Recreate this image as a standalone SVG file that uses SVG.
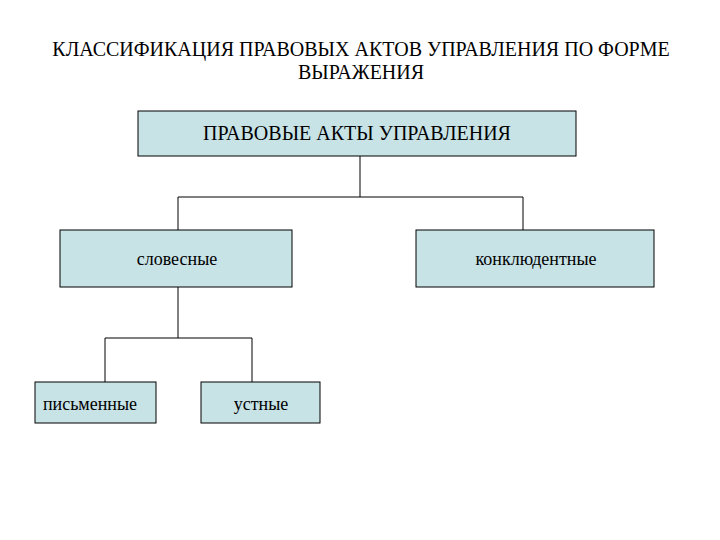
<svg xmlns="http://www.w3.org/2000/svg" width="720" height="540" viewBox="0 0 720 540">
<style>
.b{fill:#c7e3e6;stroke:#000;stroke-width:1}
.t{font-family:"Liberation Serif",serif;font-size:20px;text-anchor:middle;fill:#000}
.s{font-family:"Liberation Serif",serif;font-size:18px;text-anchor:middle;fill:#000}
.c{fill:none;stroke:#000;stroke-width:1}
</style>
<rect width="720" height="540" fill="#fff"/>
<text class="t" x="361" y="56">КЛАССИФИКАЦИЯ ПРАВОВЫХ АКТОВ УПРАВЛЕНИЯ ПО ФОРМЕ</text>
<text class="t" x="361" y="79">ВЫРАЖЕНИЯ</text>
<g id="connectors">
<path class="c" d="M360 156V197M178 197H523M178 197V230M523 197V230"/>
<path class="c" d="M178 287V338M105 338H252M105 338V382M252 338V382"/>
</g>
<g id="root"><rect class="b" x="138" y="111" width="438" height="45"/><text class="t" x="357" y="140">ПРАВОВЫЕ АКТЫ УПРАВЛЕНИЯ</text></g>
<g id="slovesnye"><rect class="b" x="60" y="230" width="232" height="57"/><text class="s" x="177" y="265">словесные</text></g>
<g id="konkl"><rect class="b" x="416" y="230" width="238" height="57"/><text class="s" x="536" y="265">конклюдентные</text></g>
<g id="pism"><rect class="b" x="35" y="382" width="121" height="41"/><text class="s" x="90" y="410">письменные</text></g>
<g id="ustn"><rect class="b" x="201" y="382" width="119" height="41"/><text class="s" x="261" y="410">устные</text></g>
</svg>
